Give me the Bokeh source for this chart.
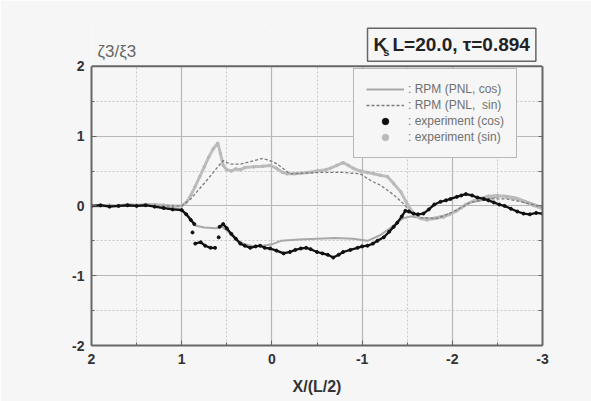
from bokeh.plotting import figure
from bokeh.models import (Range1d, Label, Legend, LegendItem, LinearAxis, FixedTicker,
                          BoxAnnotation, Span, CustomJSTickFormatter)
from bokeh.embed import file_html
from bokeh.resources import INLINE

nan = float("nan")

# ---------------- data ----------------
rpm_cos_x = [2.0, 1.5, 1.2, 1.0, 0.9, 0.85, 0.75, 0.62, 0.55, 0.5, 0.4, 0.3, 0.2, 0.1, 0.0,
             -0.1, -0.3, -0.5, -0.7, -0.9, -1.06, -1.2, -1.35, -1.45, -1.54, -1.65, -1.76,
             -1.9, -1.98, -2.1, -2.2, -2.39, -2.57, -2.7, -2.79, -2.9, -3.0]
rpm_cos_y = [0.0, 0.0, 0.0, -0.05, -0.18, -0.28, -0.31, -0.32, -0.3, -0.35, -0.48, -0.55, -0.58,
             -0.57, -0.55, -0.5, -0.48, -0.47, -0.46, -0.47, -0.5, -0.42, -0.28, -0.18, -0.15,
             -0.17, -0.18, -0.14, -0.11, -0.03, 0.05, 0.1, 0.15, 0.12, 0.08, 0.03, -0.02]

rpm_sin_x = [2.0, 1.5, 1.2, 1.0, 0.9, 0.8, 0.7, 0.6, 0.54, 0.5, 0.45, 0.35, 0.25, 0.1, 0.0,
             -0.06, -0.2, -0.35, -0.54, -0.79, -0.98, -1.1, -1.2, -1.35, -1.46, -1.53, -1.65,
             -1.83, -2.0, -2.2, -2.4, -2.6, -2.8, -3.0]
rpm_sin_y = [0.0, 0.0, 0.0, 0.0, 0.1, 0.25, 0.4, 0.56, 0.65, 0.62, 0.6, 0.6, 0.63, 0.68, 0.64,
             0.6, 0.46, 0.47, 0.48, 0.48, 0.46, 0.36, 0.3, 0.16, 0.03, -0.07, -0.17,
             -0.18, -0.09, 0.05, 0.1, 0.1, 0.05, -0.02]

exp_cos_x = [2.0, 1.9, 1.8, 1.7, 1.6, 1.5, 1.4, 1.3, 1.2, 1.1, 1.0, 0.95, 0.9, 0.86, nan,
             0.88, nan,
             0.85, 0.79, 0.74, 0.68, 0.63, nan,
             0.59, nan,
             0.58, 0.54, 0.5, 0.45, 0.4, 0.35, 0.3, 0.24, 0.18, 0.13, 0.08, 0.02, -0.05, -0.13,
             -0.2, -0.26, -0.32, -0.38, -0.43, -0.5, -0.56, -0.62, -0.68, -0.74, -0.79, -0.87,
             -0.95, -1.0, -1.06, -1.12, -1.17, -1.24, -1.3, -1.35, -1.39, -1.44, -1.48, -1.52,
             -1.57, -1.62, -1.68, -1.74, -1.8, -1.87, -1.93, -1.98, -2.05, -2.1, -2.15, -2.22,
             -2.28, -2.35, -2.4, -2.46, -2.52, -2.58, -2.65, -2.72, -2.79, -2.86, -2.93, -3.0]
exp_cos_y = [0.0, 0.01, -0.01, 0.0, 0.01, 0.0, 0.01, -0.01, -0.03, -0.05, -0.06, -0.12, -0.2, -0.26, nan,
             -0.38, nan,
             -0.54, -0.52, -0.57, -0.6, -0.6, nan,
             -0.45, nan,
             -0.3, -0.26, -0.32, -0.4, -0.47, -0.54, -0.57, -0.6, -0.58, -0.57, -0.6, -0.61, -0.64, -0.68,
             -0.66, -0.63, -0.61, -0.6, -0.62, -0.66, -0.68, -0.7, -0.74, -0.7, -0.66, -0.63,
             -0.6, -0.58, -0.57, -0.54, -0.5, -0.45, -0.37, -0.3, -0.24, -0.15, -0.07, -0.08,
             -0.11, -0.12, -0.11, -0.05, 0.02, 0.06, 0.08, 0.1, 0.13, 0.15, 0.17, 0.15,
             0.12, 0.1, 0.08, 0.05, 0.02, 0.0, -0.04, -0.08, -0.11, -0.12, -0.1, -0.11]

exp_sin_x = [2.0, 1.9, 1.8, 1.7, 1.6, 1.5, 1.4, 1.3, 1.2, 1.1, 1.0, 0.95, 0.9, 0.85, 0.8, 0.75,
             0.7, 0.65, 0.6, 0.57, 0.54, 0.5, 0.45, 0.4, 0.35, 0.3, 0.2, 0.1, 0.02, -0.05, -0.12,
             -0.17, -0.25, -0.32, -0.4, -0.5, -0.6, -0.65, -0.72, -0.79, -0.85, -0.9, -0.98,
             -1.06, -1.13, -1.2, -1.28, -1.35, -1.43, -1.5, -1.57, -1.65, -1.72, -1.8, -1.9,
             -1.97, -2.05, -2.15, -2.28, -2.4, -2.5, -2.6, -2.72, -2.8, -2.9, -3.0]
exp_sin_y = [0.0, 0.0, 0.01, 0.0, 0.02, 0.01, 0.02, 0.02, 0.01, 0.0, 0.0, 0.05, 0.15, 0.28, 0.42, 0.56,
             0.7, 0.82, 0.9, 0.75, 0.58, 0.52, 0.5, 0.53, 0.52, 0.55, 0.56, 0.57, 0.58, 0.54, 0.48,
             0.46, 0.46, 0.47, 0.48, 0.5, 0.52, 0.54, 0.58, 0.62, 0.58, 0.54, 0.5,
             0.48, 0.46, 0.44, 0.42, 0.32, 0.2, 0.03, -0.11, -0.18, -0.2, -0.18, -0.16,
             -0.12, -0.07, 0.02, 0.1, 0.14, 0.15, 0.13, 0.1, 0.06, 0.01, -0.04]

x_ticks = [2, 1, 0, -1, -2, -3]
x_minor = [1.5, 0.5, -0.5, -1.5, -2.5]
y_ticks = [2, 1, 0, -1, -2]
y_minor = [1.5, 0.5, -0.5, -1.5]
legend_labels = [": RPM (PNL, cos)", ": RPM (PNL,  sin)", ": experiment (cos)", ": experiment (sin)"]
title_text = "K L=20.0, \u03c4=0.894"
title_sub = "s"
y_label = "\u03b63/\u03be3"
x_label = "X/(L/2)"

# ---------------- figure ----------------
BG = "#f6f6f6"
FRAME = "#666666"
FONT = "Liberation Sans"
Y_TOP = 2.6   # frame extends above y=2 to hold the caption box

p = figure(width=591, height=401, output_backend="svg", toolbar_location=None,
           x_range=Range1d(2, -3), y_range=Range1d(-2, Y_TOP),
           min_border_left=91, min_border_right=49, min_border_top=24, min_border_bottom=56,
           background_fill_color=BG, border_fill_color=BG)
p.outline_line_color = None

plain = CustomJSTickFormatter(code="return tick.toString();")
for ax in (p.xaxis[0], p.yaxis[0]):
    ax.axis_line_color = FRAME
    ax.axis_line_width = 2
    ax.major_tick_in = 5
    ax.major_tick_out = 0
    ax.minor_tick_in = 3
    ax.minor_tick_out = 0
    ax.major_tick_line_color = FRAME
    ax.minor_tick_line_color = FRAME
    ax.major_label_text_font = FONT
    ax.major_label_text_font_style = "bold"
    ax.major_label_text_font_size = "14px"
    ax.major_label_text_color = "#333333"
    ax.formatter = plain

p.xaxis[0].ticker = FixedTicker(ticks=x_ticks, minor_ticks=x_minor)
p.yaxis[0].ticker = FixedTicker(ticks=y_ticks, minor_ticks=y_minor)
p.yaxis[0].bounds = (-2, 2)
p.xaxis[0].major_label_standoff = 8
p.yaxis[0].major_label_standoff = 7
p.xaxis[0].axis_label = x_label
p.xaxis[0].axis_label_text_font = FONT
p.xaxis[0].axis_label_text_font_style = "bold"
p.xaxis[0].axis_label_text_font_size = "16px"
p.xaxis[0].axis_label_text_color = "#333333"
p.xaxis[0].axis_label_standoff = 11

# right frame edge with inward ticks (no labels)
right = LinearAxis(ticker=FixedTicker(ticks=[], minor_ticks=y_ticks + y_minor),
                   bounds=(-2, 2), axis_line_color=FRAME, axis_line_width=2,
                   major_tick_in=0, major_tick_out=0, minor_tick_in=4, minor_tick_out=0,
                   minor_tick_line_color=FRAME)
p.add_layout(right, "right")

# grids
p.xgrid.ticker = FixedTicker(ticks=[1, 0, -1, -2], minor_ticks=x_minor)
p.ygrid.ticker = FixedTicker(ticks=[1, 0, -1], minor_ticks=y_minor)
for g in (p.xgrid[0], p.ygrid[0]):
    g.grid_line_color = "#b8b8b8"
    g.grid_line_width = 1.2
    g.minor_grid_line_color = "#c8c8c8"
    g.minor_grid_line_dash = "2 2"
    g.minor_grid_line_width = 1

# ---------------- series ----------------
r_rpm_cos = p.line(rpm_cos_x, rpm_cos_y, line_color="#a8a8a8", line_width=2)
p.line(exp_sin_x, exp_sin_y, line_color="#bdbdbd", line_width=3)
p.scatter(exp_sin_x, exp_sin_y, size=2.5, marker="circle", fill_color="#b8b8b8", line_color="#b8b8b8")
r_rpm_sin = p.line(rpm_sin_x, rpm_sin_y, line_color="#7a7a7a", line_width=1.3, line_dash="3 2")
p.line(exp_cos_x, exp_cos_y, line_color="#111111", line_width=2.3)
p.scatter(exp_cos_x, exp_cos_y, size=3, marker="circle", fill_color="#111111", line_color="#111111")

# legend-only markers (small dots, a single NaN point so nothing is drawn in the frame)
leg_cos = p.scatter([nan], [nan], marker="circle", size=3, line_color="#111111", fill_color="#111111")
leg_sin = p.scatter([nan], [nan], marker="circle", size=3, line_color="#bbbbbb", fill_color="#bbbbbb")

# hide the area above y=2 and draw the top frame edge
p.add_layout(BoxAnnotation(bottom=2, fill_color=BG, fill_alpha=1, line_color=None))
p.add_layout(Span(location=2, dimension="width", line_color=FRAME, line_width=2))

legend = Legend(items=[
    LegendItem(label=legend_labels[0], renderers=[r_rpm_cos]),
    LegendItem(label=legend_labels[1], renderers=[r_rpm_sin]),
    LegendItem(label=legend_labels[2], renderers=[leg_cos]),
    LegendItem(label=legend_labels[3], renderers=[leg_sin]),
], location=(262, 187))
legend.label_text_font = FONT
legend.label_text_font_size = "12px"
legend.label_text_color = "#707070"
legend.glyph_width = 38
legend.glyph_height = 16
legend.label_height = 16
legend.label_standoff = 4
legend.spacing = 0
legend.padding = 12
legend.margin = 0
legend.border_line_color = "#777777"
legend.border_line_width = 1.5
legend.background_fill_color = BG
legend.background_fill_alpha = 1
p.add_layout(legend)

# ---------------- texts ----------------
title = Label(x=-1.06, y=2.31, text=title_text, text_font=FONT, text_font_style="bold",
              text_font_size="19px", text_color="#222222", text_align="left",
              text_baseline="middle", border_line_color=FRAME, border_line_width=1.5,
              background_fill_color=BG, padding=6)
p.add_layout(title)
sub = Label(x=-1.235, y=2.2, text=title_sub, text_font=FONT, text_font_style="bold",
            text_font_size="11px", text_color="#222222", text_align="left",
            text_baseline="middle")
p.add_layout(sub)

ylab = Label(x=1.933, y=2.22, text=y_label, text_font=FONT, text_font_size="17px",
             text_color="#666666", text_align="left", text_baseline="middle")
p.add_layout(ylab)

open("out.html", "w").write(file_html(p, INLINE))
